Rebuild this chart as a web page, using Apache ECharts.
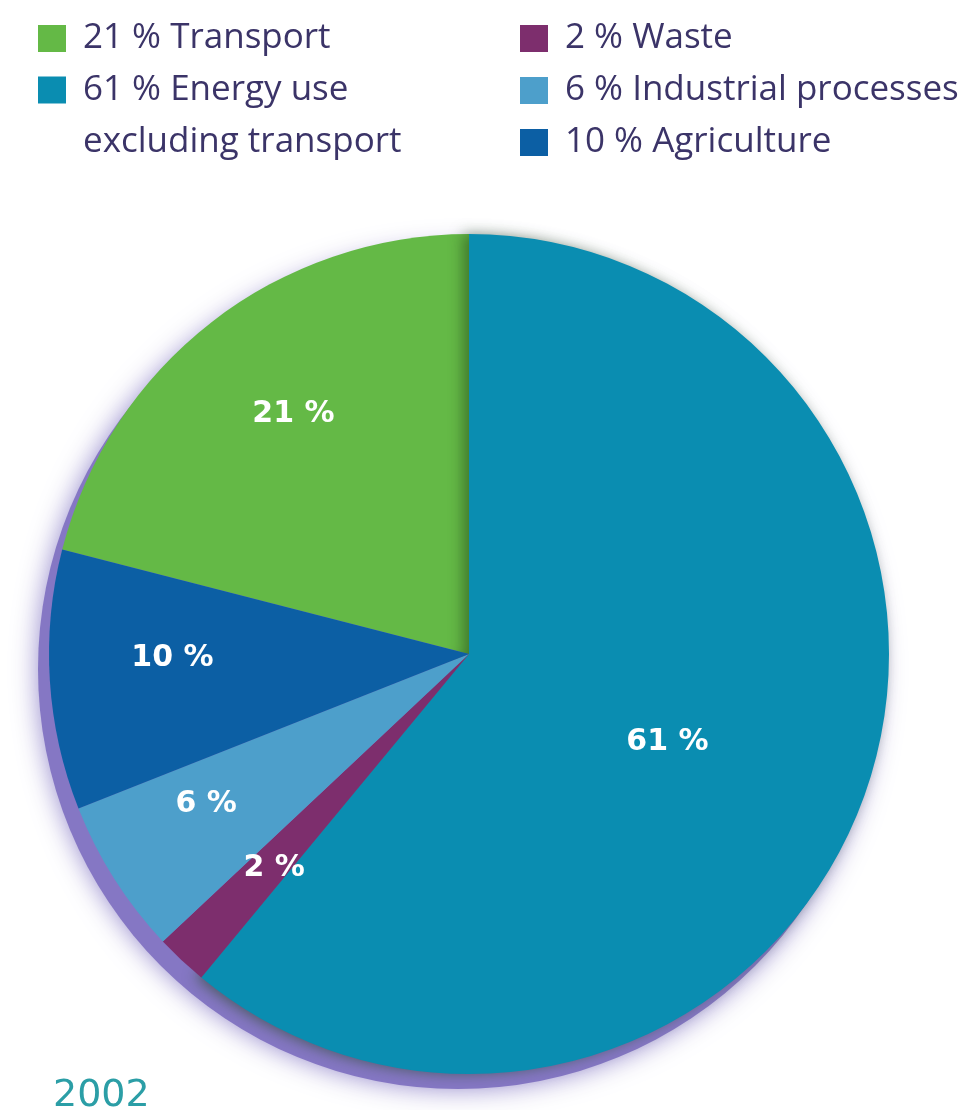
<!DOCTYPE html>
<html>
<head>
<meta charset="utf-8">
<title>Greenhouse gas emissions by source, 2002</title>
<script src="https://cdn.jsdelivr.net/npm/echarts@6.0.0/dist/echarts.min.js"></script>
<style>
  html, body { margin: 0; padding: 0; background: #ffffff; }
  #chart { width: 980px; height: 1110px; }
</style>
</head>
<body>
<div id="chart"></div>
<script>
// Emission shares by source, in percent (clockwise from the green slice)
const categories = ['Transport', 'Energy use\nexcluding transport', 'Waste', 'Industrial processes', 'Agriculture'];
const shares = [21, 61, 2, 6, 10];
const yearLabel = '2002';

const sliceColors = ['#64b946', '#0a8db1', '#7d2e6d', '#4d9fcb', '#0c5fa4'];
const total = shares.reduce((a, b) => a + b, 0);

// Small shifts that move each in-slice caption away from the mid-radius default
const captionShift = [[-45, -71], [-2, 16], [-49, 59], [-83, 36], [-84, -9]];

const pieCenter = [469, 654];
const pieRadius = 420;

const legendText = {
  fontFamily: 'Open Sans',
  fontSize: 35,
  color: '#3b3468',
  lineHeight: 35,
  padding: [0, 0, 0, 12]
};
const legendCommon = {
  orient: 'vertical',
  icon: 'rect',
  itemWidth: 28,
  itemHeight: 27,
  padding: 0,
  selectedMode: false,
  formatter: function (name) {
    const text = shares[categories.indexOf(name)] + ' % ' + name;
    // a wrapped entry gets an empty leading line so its first line sits beside the swatch
    return name.indexOf('\n') >= 0 ? '\n' + text : text;
  }
};

const chart = echarts.init(document.getElementById('chart'), null, { renderer: 'canvas' });

chart.setOption({
  animation: false,
  backgroundColor: '#ffffff',
  legend: [
    Object.assign({}, legendCommon, {
      data: [categories[0]], left: 38, top: 21,
      textStyle: legendText
    }),
    Object.assign({}, legendCommon, {
      data: [categories[1]], left: 38, top: 12,
      textStyle: Object.assign({}, legendText, { lineHeight: 52 })
    }),
    Object.assign({}, legendCommon, {
      data: [categories[2], categories[3], categories[4]], left: 520, top: 21, itemGap: 17,
      textStyle: legendText
    })
  ],
  graphic: [{
    type: 'text',
    left: 53,
    top: 1077,
    style: {
      text: yearLabel,
      font: '38px "DejaVu Sans"',
      fill: '#2b9ea6'
    }
  }],
  series: [
    {
      // soft lavender drop shadow under the disc
      type: 'pie',
      silent: true,
      center: [pieCenter[0] - 11, pieCenter[1] + 15],
      radius: pieRadius,
      label: { show: false },
      labelLine: { show: false },
      itemStyle: { color: '#8577c4', shadowBlur: 26, shadowColor: 'rgba(138, 125, 198, 0.9)' },
      data: [{ name: 'all sources', value: total }]
    },
    {
      type: 'pie',
      center: pieCenter,
      radius: pieRadius,
      clockwise: true,
      startAngle: 90 + 360 * shares[0] / total,
      avoidLabelOverlap: false,
      emphasis: { disabled: true },
      label: {
        show: true,
        position: 'inside',
        formatter: '{c} %',
        color: '#ffffff',
        fontFamily: 'DejaVu Sans',
        fontWeight: 'bold',
        fontSize: 30
      },
      labelLine: { show: false },
      labelLayout: function (params) {
        const s = captionShift[params.dataIndex];
        return { dx: s[0], dy: s[1] };
      },
      data: categories.map(function (name, i) {
        const item = {
          name: name,
          value: shares[i],
          itemStyle: { color: sliceColors[i], borderWidth: 0 }
        };
        if (i === 1) {
          // the large slice casts a narrow shade onto its neighbour
          item.itemStyle.shadowColor = 'rgba(35, 70, 25, 0.55)';
          item.itemStyle.shadowBlur = 14;
          item.itemStyle.shadowOffsetX = -6;
        }
        return item;
      })
    }
  ]
});
</script>
</body>
</html>
